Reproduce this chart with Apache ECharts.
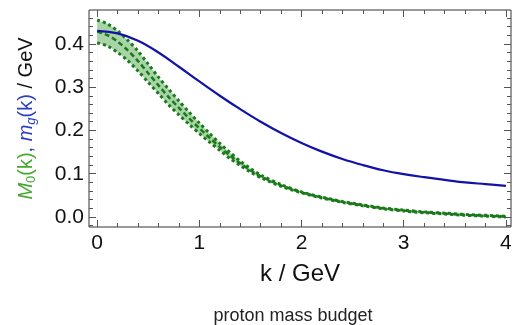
<!DOCTYPE html>
<html><head><meta charset="utf-8">
<script src="https://cdn.jsdelivr.net/npm/echarts@6/dist/echarts.min.js"></script>
<style>html,body{margin:0;padding:0;background:#fff}#c{width:520px;height:325px}</style>
</head><body><div id="c"></div>
<script>
// gluon mass m_g(k)
const kBlue = [0,0.2,0.4,0.6,0.8,1.0,1.2,1.4,1.6,1.8,2.0,2.2,2.4,2.6,2.8,3.0,3.2,3.4,3.6,3.8,4.0];
const mGluon = [0.430,0.424,0.407,0.380,0.347,0.313,0.280,0.249,0.220,0.194,0.171,0.151,0.134,0.120,0.108,0.099,0.092,0.086,0.080,0.076,0.072];
// quark mass function M0(k): central, upper and lower bands
const kGreen = [0,0.1,0.2,0.3,0.4,0.5,0.6,0.7,0.8,0.9,1.0,1.1,1.2,1.3,1.4,1.5,1.6,1.8,2.0,2.2,2.4,2.6,2.8,3.0,3.2,3.4,3.6,3.8,4.0];
const mQuarkMid = [0.428,0.420,0.405,0.385,0.360,0.332,0.304,0.277,0.252,0.228,0.205,0.183,0.162,0.142,0.124,0.108,0.094,0.073,0.057,0.045,0.035,0.027,0.020,0.015,0.011,0.008,0.005,0.003,0.001];
const mQuarkUp = [0.455,0.446,0.430,0.408,0.383,0.353,0.323,0.295,0.268,0.242,0.217,0.193,0.170,0.149,0.129,0.112,0.097,0.075,0.058,0.046,0.036,0.028,0.021,0.016,0.012,0.009,0.006,0.004,0.002];
const mQuarkLow = [0.402,0.395,0.380,0.361,0.337,0.311,0.285,0.259,0.236,0.214,0.193,0.173,0.154,0.135,0.119,0.104,0.091,0.071,0.056,0.044,0.034,0.026,0.019,0.014,0.010,0.007,0.004,0.002,0.000];
// ticks
const xMajor = [0,1,2,3,4];
const xMinor = [0.2,0.4,0.6,0.8,1.2,1.4,1.6,1.8,2.2,2.4,2.6,2.8,3.2,3.4,3.6,3.8];
const yMajor = [0.0,0.1,0.2,0.3,0.4];
const yMinor = [-0.02,0.02,0.04,0.06,0.08,0.12,0.14,0.16,0.18,0.22,0.24,0.26,0.28,0.32,0.34,0.36,0.38,0.42,0.44,0.46];

const pair = (xs, ys) => xs.map((x, i) => [x, ys[i]]);

const X_MIN = -0.08, X_MAX = 4.05, Y_MIN = -0.023, Y_MAX = 0.478;
const FONT = '"Liberation Sans", Arial, sans-serif';
const tickCol = '#555';

function xAx(pos, ticks, len, labels) {
  return {
    type: 'value', position: pos, min: X_MIN, max: X_MAX,
    splitLine: { show: false },
    axisLine: { show: false, onZero: false },
    axisTick: { show: true, inside: true, length: len, customValues: ticks, lineStyle: { color: tickCol, width: 1 } },
    axisLabel: labels ? { show: true, customValues: ticks, fontSize: 21, color: '#111', fontFamily: FONT, margin: 6 } : { show: false }
  };
}
function yAx(pos, ticks, len, labels) {
  return {
    type: 'value', position: pos, min: Y_MIN, max: Y_MAX,
    splitLine: { show: false },
    axisLine: { show: false, onZero: false },
    axisTick: { show: true, inside: true, length: len, customValues: ticks, lineStyle: { color: tickCol, width: 1 } },
    axisLabel: labels ? { show: true, customValues: ticks, fontSize: 21, color: '#111', fontFamily: FONT, margin: 5,
      formatter: v => v.toFixed(1) } : { show: false }
  };
}

const xAxes = [xAx('bottom', xMajor, 7, true), xAx('top', xMajor, 7, false), xAx('bottom', xMinor, 4, false), xAx('top', xMinor, 4, false)];
Object.assign(xAxes[0], { name: 'k / GeV', nameLocation: 'middle', nameGap: 35,
  nameTextStyle: { fontSize: 24, color: '#111', fontFamily: FONT } });
const yAxes = [yAx('left', yMajor, 7, true), yAx('right', yMajor, 7, false), yAx('left', yMinor, 4, false), yAx('right', yMinor, 4, false)];
const G = '#45a832', B = '#2a3ec4';
Object.assign(yAxes[0], {
  name: '{gi|M}{gs|0}{g|(k)}{b|, }{bi|m}{bs|g}{b|(k)}{k| / GeV}',
  nameLocation: 'middle', nameRotate: 90, nameGap: 51,
  nameTextStyle: {
    fontFamily: FONT,
    rich: {
      gi: { color: G, fontSize: 20, fontStyle: 'italic', lineHeight: 24, fontFamily: FONT },
      g: { color: G, fontSize: 20, lineHeight: 24, fontFamily: FONT },
      gs: { color: G, fontSize: 13, lineHeight: 12, verticalAlign: 'bottom', fontFamily: FONT },
      b: { color: B, fontSize: 20, lineHeight: 24, fontFamily: FONT },
      bi: { color: B, fontSize: 20, fontStyle: 'italic', lineHeight: 24, fontFamily: FONT },
      bs: { color: B, fontSize: 13, fontStyle: 'italic', lineHeight: 12, verticalAlign: 'bottom', fontFamily: FONT },
      k: { color: '#111', fontSize: 20, lineHeight: 24, fontFamily: FONT }
    }
  }
});

const darkGreen = '#1a7a1a';
const chart = echarts.init(document.getElementById('c'), null, { renderer: 'canvas' });
chart.setOption({
  animation: false,
  backgroundColor: '#fff',
  grid: { left: 89, right: 9, top: 10, bottom: 98, show: true, borderColor: '#333', borderWidth: 1, backgroundColor: 'transparent' },
  xAxis: xAxes,
  yAxis: yAxes,
  graphic: [{ type: 'text', x: 293, y: 316, style: { text: 'proton mass budget', fontSize: 18, fontFamily: FONT, fill: '#222', align: 'center', verticalAlign: 'middle' } }],
  series: [
    // band fill: green down to 0 under the upper edge, then white under the lower edge
    { type: 'line', data: pair(kGreen, mQuarkUp), smooth: 0.3, symbol: 'none', lineStyle: { opacity: 0 },
      areaStyle: { color: 'rgb(168,212,168)', origin: 0, opacity: 1 }, silent: true, z: 1 },
    { type: 'line', data: pair(kGreen, mQuarkLow), smooth: 0.3, symbol: 'none', lineStyle: { opacity: 0 },
      areaStyle: { color: '#ffffff', origin: 0, opacity: 1 }, silent: true, z: 1 },
    { type: 'line', data: pair(kGreen, mQuarkUp), smooth: 0.3, symbol: 'none', lineStyle: { color: darkGreen, width: 3, type: 'dotted' }, z: 2 },
    { type: 'line', data: pair(kGreen, mQuarkLow), smooth: 0.3, symbol: 'none', lineStyle: { color: darkGreen, width: 3, type: 'dotted' }, z: 2 },
    { type: 'line', data: pair(kGreen, mQuarkMid), smooth: 0.3, symbol: 'none', lineStyle: { color: darkGreen, width: 2.5, type: [5, 3] }, z: 2 },
    { type: 'line', data: pair(kBlue, mGluon), smooth: 0.4, symbol: 'none', lineStyle: { color: '#1212a8', width: 2.2 }, z: 3 }
  ]
});
</script></body></html>
